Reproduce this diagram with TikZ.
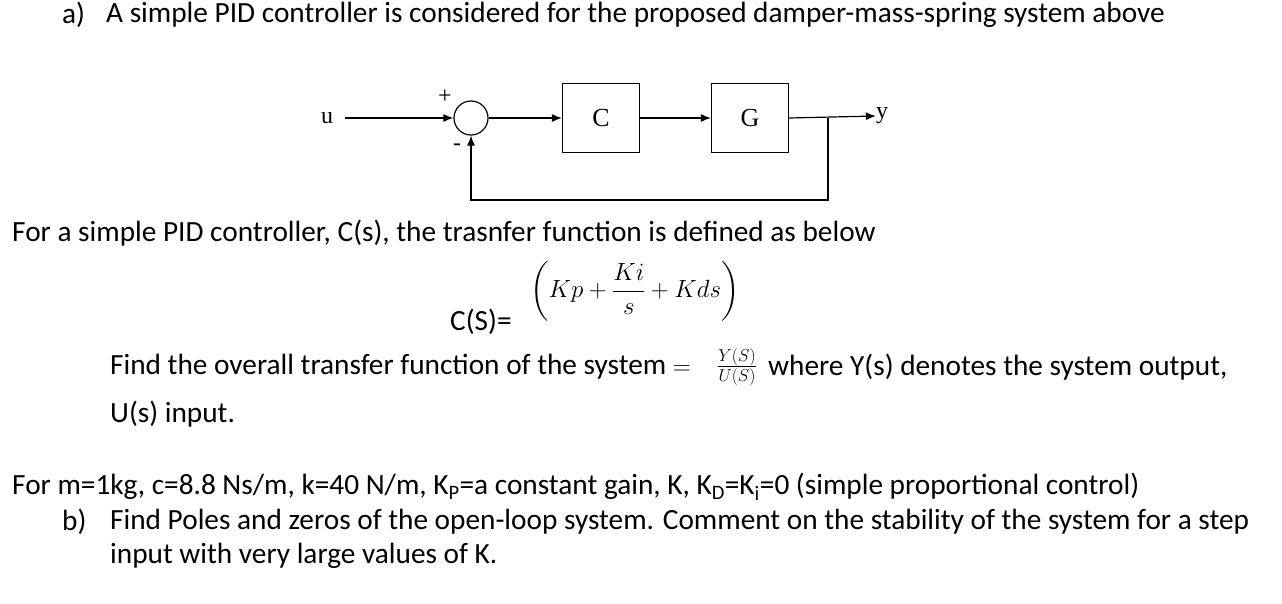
\documentclass[tikz,border=0pt]{standalone}
\usepackage{amsmath}
\usepackage{fontspec}
\setmainfont{Carlito}
\newfontfamily\tms{Liberation Serif}
\usetikzlibrary{arrows.meta}
\begin{document}
\begin{tikzpicture}[x=1pt,y=-1pt,
  txt/.style={anchor=west,inner sep=0,font=\fontsize{29.3}{33}\selectfont},
  blk/.style={draw,line width=1.2pt,minimum width=77pt,minimum height=69pt,font=\tms\fontsize{26}{28}\selectfont},
  sig/.style={line width=1.2pt,-{Latex[length=10pt,width=8pt]}},
  lab/.style={font=\tms\fontsize{24}{26}\selectfont,inner sep=0}]
\useasboundingbox (0,0) rectangle (1282,604);
\node[txt] (qa) at (62,15) {a)};
\node[txt] (ta) at (106,15) {A simple PID controller is considered for the proposed damper-mass-spring system above};
% diagram
\node[lab] (u) at (327,118) {u};
\node[draw,circle,line width=1.2pt,minimum size=34pt,inner sep=0] (s) at (471,118) {};
\node[blk] (c) at (601,118) {C};
\node[blk] (g) at (750,118) {G};
\node[lab] (y) at (882,116) {y};
\node[lab] (p) at (445,97) {+};
\node[lab] (m) at (457,147) {-};
\coordinate (br) at (828,118);
\coordinate (b1) at (828,200);
\coordinate (b2) at (471,200);
\draw[sig] (u.east)++(12,0) -- (s.west);
\draw[sig] (s) -- (c);
\draw[sig] (c) -- (g);
\draw[sig] (g.east) -- (y.west);
\draw[sig] (br) -- (b1) -- (b2) -- (s.south);
% text
\node[txt] (t1) at (12,233) {For a simple PID controller, C(s), the trasnfer function is defined as below};
\node[txt] (cs) at (450,322) {C(S)=};
\node[anchor=west,inner sep=0,font=\fontsize{34}{40}\selectfont] (f) at (530,291) {$\left(Kp+\dfrac{Ki}{s}+Kds\right)$};
\node[txt] (t2) at (110,367) {Find the overall transfer function of the system $=$};
\node[anchor=center,inner sep=0,font=\fontsize{26}{30}\selectfont] (fr) at (737,367) {$\frac{Y(S)}{U(S)}$};
\node[txt] (t3) at (768,367) {where Y(s) denotes the system output,};
\node[txt] (t4) at (110,414) {U(s) input.};
\node[txt] (t5) at (12,487) {For m=1kg, c=8.8 Ns/m, k=40 N/m, K\textsubscript{P}=a constant gain, K, K\textsubscript{D}=K\textsubscript{i}=0 (simple proportional control)};
\node[txt] (qb) at (62,522) {b)};
\node[txt] (t6) at (110,522) {Find Poles and zeros of the open-loop system. Comment on the stability of the system for a step};
\node[txt] (t7) at (110,556) {input with very large values of K.};
\end{tikzpicture}
\end{document}
